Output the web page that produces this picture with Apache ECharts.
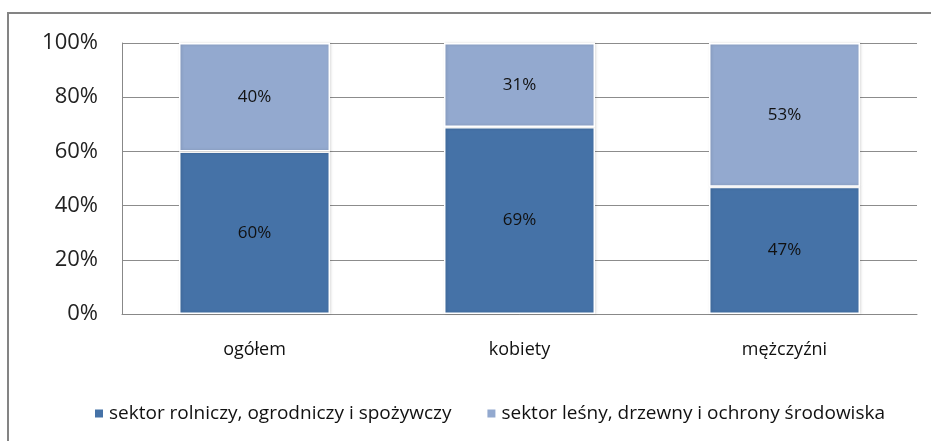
<!DOCTYPE html>
<html>
<head>
<meta charset="UTF-8">
<title>sektory</title>
<style>
  html, body { margin: 0; padding: 0; background: #fff; }
  #main { width: 931px; height: 441px; }
</style>
<script src="https://cdn.jsdelivr.net/npm/echarts@6/dist/echarts.min.js"></script>
</head>
<body>
<div id="main"></div>
<script>
var categories = ['ogółem', 'kobiety', 'mężczyźni'];
var rolniczy = [60, 69, 47];   // sektor rolniczy, ogrodniczy i spożywczy
var lesny = [40, 31, 53];      // sektor leśny, drzewny i ochrony środowiska
var seriesNames = ['sektor rolniczy, ogrodniczy i spożywczy', 'sektor leśny, drzewny i ochrony środowiska'];

var chart = echarts.init(document.getElementById('main'));

var font = 'Open Sans, Liberation Sans, sans-serif';

function barLabel(size) {
  return {
    show: true,
    position: 'inside',
    formatter: '{c}%',
    color: '#111',
    fontFamily: font,
    fontSize: size
  };
}

var option = {
  animation: false,
  backgroundColor: '#fff',
  graphic: [{
    type: 'rect',
    shape: { x: 8, y: 13, width: 940, height: 440 },
    style: { fill: 'none', stroke: '#848484', lineWidth: 2 },
    silent: true
  }],
  grid: { left: 122, right: 14, top: 43, bottom: 127 },
  legend: {
    top: 399,
    left: 88,
    itemGap: 34,
    itemWidth: 10,
    itemHeight: 10,
    icon: 'rect',
    textStyle: { fontFamily: font, fontSize: 19, color: '#111' },
    data: seriesNames
  },
  xAxis: {
    type: 'category',
    data: categories,
    axisLine: { lineStyle: { color: '#888', width: 1 } },
    axisTick: { show: false },
    axisLabel: { fontFamily: font, fontSize: 18, color: '#111', margin: 27 }
  },
  yAxis: {
    type: 'value',
    min: 0,
    max: 100,
    interval: 20,
    axisLine: { show: true, lineStyle: { color: '#888' } },
    axisTick: { show: false },
    splitLine: { lineStyle: { color: '#8c8c8c', width: 1 } },
    axisLabel: { formatter: '{value}%', fontFamily: font, fontSize: 22, color: '#222', margin: 24 }
  },
  series: [{
    name: seriesNames[0],
    type: 'bar',
    stack: 'total',
    data: rolniczy,
    barWidth: '57%',
    itemStyle: {
      color: '#4572a7',
      borderColor: '#fff',
      borderWidth: 1.5,
      shadowColor: 'rgba(0,0,0,0.15)',
      shadowBlur: 3,
      shadowOffsetX: 1
    },
    label: barLabel(17)
  }, {
    name: seriesNames[1],
    type: 'bar',
    stack: 'total',
    data: lesny,
    barWidth: '57%',
    itemStyle: {
      color: '#93a9cf',
      borderColor: '#fff',
      borderWidth: 1.5,
      shadowColor: 'rgba(0,0,0,0.15)',
      shadowBlur: 3,
      shadowOffsetX: 1
    },
    label: barLabel(17)
  }]
};

chart.setOption(option);
</script>
</body>
</html>
